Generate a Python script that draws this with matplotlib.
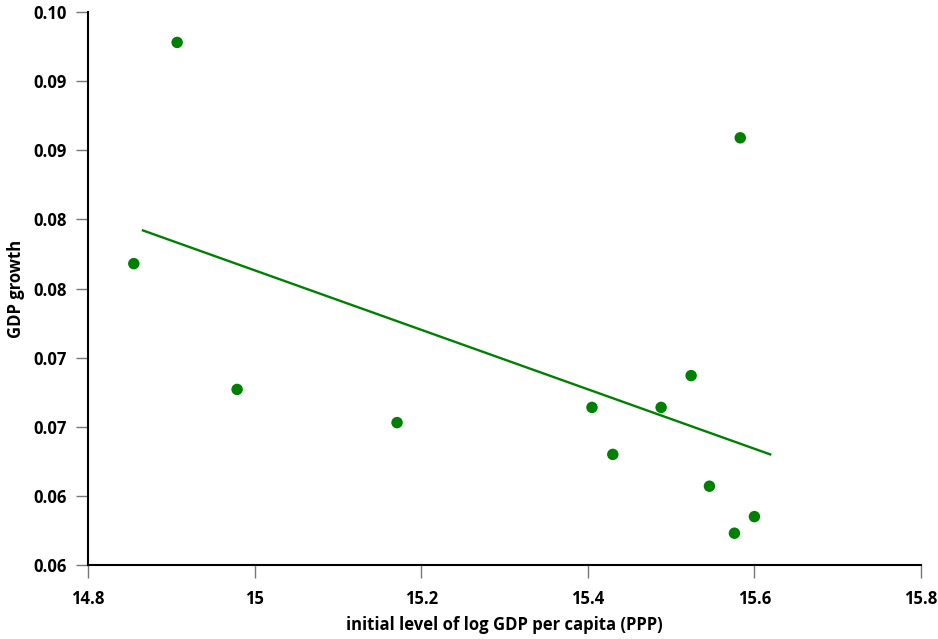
import numpy as np
import matplotlib
matplotlib.use("Agg")
import matplotlib.pyplot as plt

# data
log_gdp = [14.855, 14.907, 14.979, 15.171, 15.405, 15.430, 15.488, 15.524, 15.546, 15.583, 15.576, 15.600]
gdp_growth = [0.0818, 0.0978, 0.0727, 0.0703, 0.0714, 0.0680, 0.0714, 0.0737, 0.0657, 0.0909, 0.0623, 0.0635]
# fitted line as drawn in the chart (end points)
fit_x = [14.866, 15.619]
fit_y = [0.0842, 0.0680]

x_ticks = [14.8, 15.0, 15.2, 15.4, 15.6, 15.8]
x_labels = ["14.8", "15", "15.2", "15.4", "15.6", "15.8"]
y_ticks = [0.060, 0.065, 0.070, 0.075, 0.080, 0.085, 0.090, 0.095, 0.100]
y_labels = ["0.06", "0.06", "0.07", "0.07", "0.08", "0.08", "0.09", "0.09", "0.10"]

plt.rcParams['font.family'] = ['Open Sans', 'DejaVu Sans']

fig = plt.figure(figsize=(9.38, 6.39), dpi=100)
ax = fig.add_axes([0.0938, 0.1158, 0.8881, 0.8654])

ax.plot(fit_x, fit_y, color="#008000", lw=1.7)
ax.scatter(log_gdp, gdp_growth, s=68, color="#008000", edgecolors="none", zorder=3)

ax.set_xlim(14.8, 15.8)
ax.set_ylim(0.06, 0.10)
ax.set_xticks(x_ticks)
ax.set_xticklabels(x_labels, fontsize=12, fontweight="bold")
ax.set_yticks(y_ticks)
ax.set_yticklabels(y_labels, fontsize=12, fontweight="bold")
ax.tick_params(axis="x", length=9, width=1, color="#777777", pad=9)
ax.tick_params(axis="y", length=9, width=1, color="#777777", pad=6)

for s in ["top", "right"]:
    ax.spines[s].set_visible(False)
for s in ["left", "bottom"]:
    ax.spines[s].set_linewidth(1.5)
    ax.spines[s].set_color("black")

ax.set_xlabel("initial level of log GDP per capita (PPP)", fontsize=12, fontweight="bold", labelpad=6)
ax.set_ylabel("GDP growth", fontsize=12, fontweight="bold", labelpad=6)

plt.savefig("out.png", dpi=100)
